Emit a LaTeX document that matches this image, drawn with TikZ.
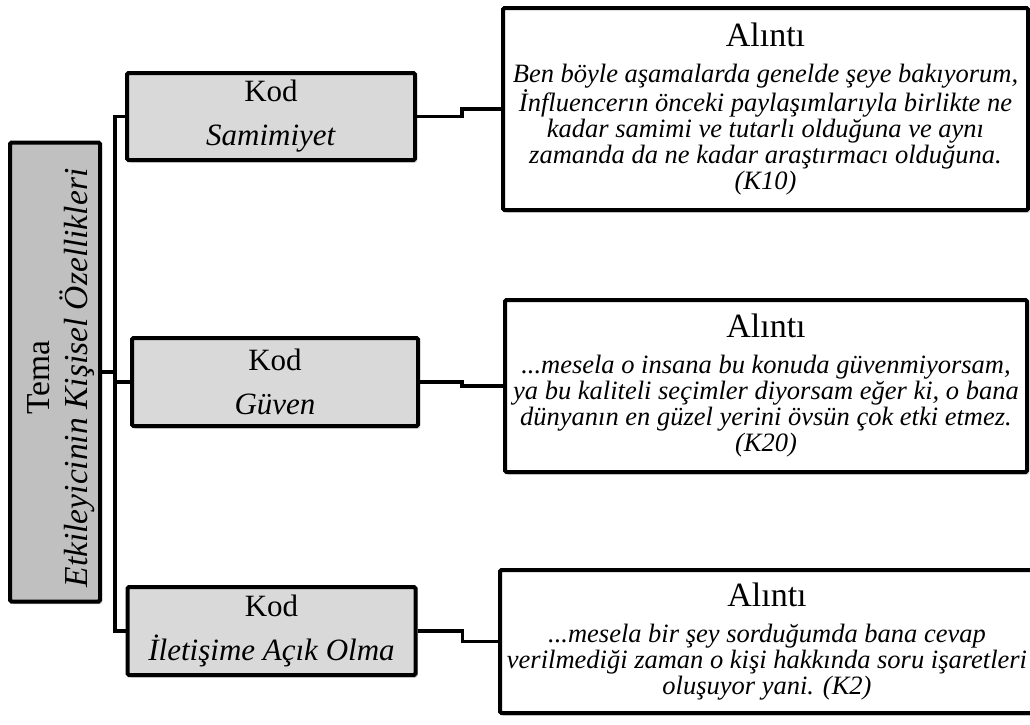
\documentclass[tikz,border=0pt]{standalone}
\usepackage{fontspec}
\setmainfont{Liberation Serif}
\usetikzlibrary{shadows}
\definecolor{temagray}{HTML}{C0C0C0}
\definecolor{kodgray}{HTML}{D9D9D9}
\newcommand{\quotetitle}{{\fontsize{34}{34}\selectfont Alıntı}}
\begin{document}
\begin{tikzpicture}[x=1pt,y=-1pt,
  boxline/.style={line width=4pt, rounded corners=1.5pt},
  shade/.style={drop shadow={shadow xshift=2pt,shadow yshift=-2.5pt,fill=black!35,opacity=0.6}},
  temabox/.style={draw, boxline, fill=temagray, shade, minimum width=90pt, minimum height=459pt, inner sep=0pt},
  kodbox/.style={draw, boxline, fill=kodgray, shade, minimum width=288pt, minimum height=87pt,
    inner sep=0pt, align=center, font=\fontsize{31}{44}\selectfont},
  quotebox/.style={draw, boxline, fill=white, shade, inner sep=0pt, align=center,
    font=\fontsize{26.5}{26}\selectfont},
  link/.style={line width=3.5pt},
]
\useasboundingbox (0,0) rectangle (1030,724);

% theme box with its rotated label
\node[temabox] (tema) at (55,372) {};
\node[rotate=90, align=center, font=\fontsize{33.5}{38}\selectfont] (temalabel)
  at ([xshift=6pt,yshift=-6pt]tema.center) {Tema\\\textit{Etkileyicinin Kişisel Özellikleri}};

% code boxes
\node[kodbox] (kod1) at (271,116.5) {Kod\\\textit{Samimiyet}};
\node[kodbox, minimum width=286pt, minimum height=88pt] (kod2) at (275,382) {Kod\\\textit{Güven}};
\node[kodbox, minimum height=88pt] (kod3) at (271.5,631) {Kod\\\textit{İletişime Açık Olma}};

% quotation boxes
\node[quotebox, minimum width=525pt, minimum height=202pt] (q1) at (765.5,109)
  {\quotetitle\\[10pt]
   \textit{Ben böyle aşamalarda genelde şeye bakıyorum,}\\
   \textit{İnfluencerın önceki paylaşımlarıyla birlikte ne}\\
   \textit{kadar samimi ve tutarlı olduğuna ve aynı}\\
   \textit{zamanda da ne kadar araştırmacı olduğuna.}\\
   \textit{(K10)}};
\node[quotebox, minimum width=522pt, minimum height=172pt] (q2) at (766,386)
  {\quotetitle\\[10pt]
   \textit{...mesela o insana bu konuda güvenmiyorsam,}\\
   \textit{ya bu kaliteli seçimler diyorsam eğer ki, o bana}\\
   \textit{dünyanın en güzel yerini övsün çok etki etmez.}\\
   \textit{(K20)}};
\node[quotebox, minimum width=534pt, minimum height=143pt] (q3) at (767,641.5)
  {\quotetitle\\[10pt]
   \textit{...mesela bir şey sorduğumda bana cevap}\\
   \textit{verilmediği zaman o kişi hakkında soru işaretleri}\\
   \textit{oluşuyor yani. (K2)}};

% connectors
\coordinate (trunk) at (115,0);
\draw[link] (kod1.west) -- (kod1.west -| trunk) -- (kod3.west -| trunk) -- (kod3.west);
\draw[link] (tema.east) -- (tema.east -| trunk);
\draw[link] (kod2.west -| trunk) -- (kod2.west);
\draw[link] (kod1.east) -- ++(45,0) |- (q1.west);
\draw[link] (kod2.east) -- ++(42,0) |- (q2.west);
\draw[link] (kod3.east) -- ++(45,0) |- (q3.west);
\end{tikzpicture}
\end{document}
